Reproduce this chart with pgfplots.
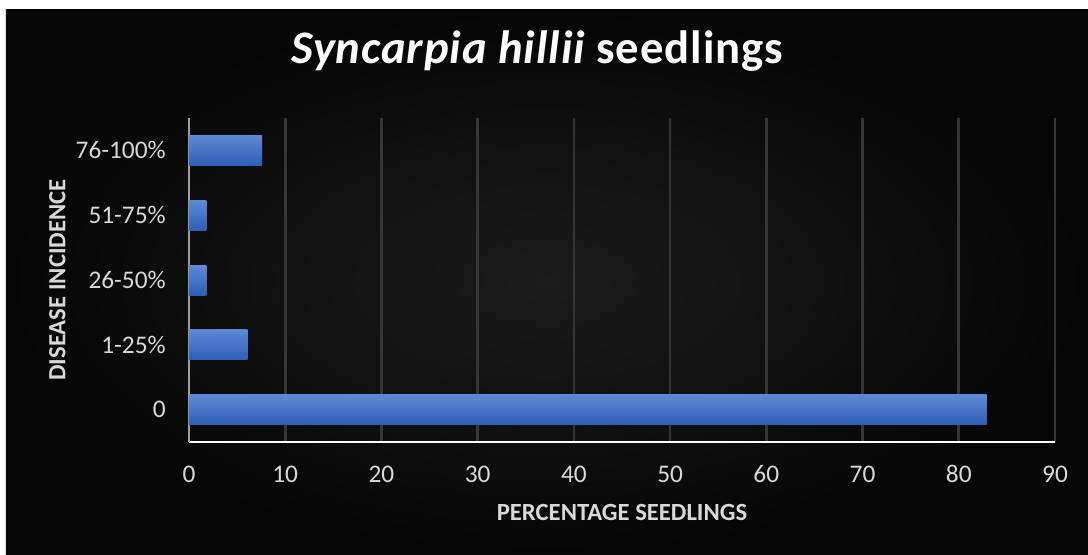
\documentclass[border=0pt]{standalone}
\usepackage{pgfplots}
\pgfplotsset{compat=1.18}
\usepackage{fontspec}
\setmainfont{Carlito}
\definecolor{bgin}{HTML}{1B1B1B}
\definecolor{bgout}{HTML}{060606}
\definecolor{gridc}{HTML}{363636}
\definecolor{tickc}{HTML}{D9D9D9}
\definecolor{bartop}{HTML}{5F89D5}
\definecolor{barbot}{HTML}{2E5EB6}
\begin{document}
\begin{tikzpicture}
% full image (white) and dark chart area; units: 1px = 0.75pt, origin at axis south west (px 189,442)
\fill[white] (-141.75pt,-84pt) rectangle (674.25pt,331.5pt);
\shade[inner color=bgin, outer color=bgout] (-137.25pt,-84pt) rectangle (674.25pt,324pt);
\begin{axis}[
  at={(0pt,0pt)}, anchor=south west,
  scale only axis, width=649.5pt, height=243pt,
  xmin=0, xmax=90, ymin=-0.5, ymax=4.5,
  xtick distance=10,
  ytick={0,1,2,3,4},
  yticklabels={0,1-25\%,26-50\%,51-75\%,76-100\%},
  major tick length=0pt,
  axis x line*=bottom, axis y line*=left,
  x axis line style={white, line width=1.6pt, -},
  y axis line style={draw=none},
  xmajorgrids,
  major grid style={gridc, line width=2pt},
  xticklabel style={font=\fontsize{19}{22}\selectfont, text=tickc, anchor=base, yshift=-30.5pt},
  yticklabel style={font=\fontsize{19}{22}\selectfont, text=tickc, anchor=east, inner sep=0pt, xshift=-17.25pt},
  /pgf/number format/assume math mode=true,
  xlabel={PERCENTAGE SEEDLINGS},
  xlabel style={font=\fontsize{18.5}{21}\selectfont\bfseries, text=tickc, at={(axis description cs:0.5,-0.219)}, anchor=center},
  ylabel={DISEASE INCIDENCE},
  ylabel style={font=\fontsize{18.5}{21}\selectfont\bfseries, text=tickc, at={(axis description cs:-0.152,0.5)}, anchor=center, rotate=0},
  title={{\itshape Syncarpia hillii} seedlings},
  title style={font=\fontsize{35}{40}\selectfont\bfseries\addfontfeatures{LetterSpace=2}, text=white, at={(axis description cs:0.402,1.142)}, anchor=base},
  clip=false,
  mybar/.style={xbar, bar width=22.5pt, bar shift=0pt, draw=none, mark=none, top color=bartop, bottom color=barbot},
]
\draw[gray!75, line width=2pt] (axis cs:0,-0.5) -- (axis cs:0,4.5);
\addplot[mybar] coordinates {(82.9,0)};
\addplot[mybar] coordinates {(6.1,1)};
\addplot[mybar] coordinates {(1.8,2)};
\addplot[mybar] coordinates {(1.8,3)};
\addplot[mybar] coordinates {(7.6,4)};
\end{axis}
\end{tikzpicture}
\end{document}
